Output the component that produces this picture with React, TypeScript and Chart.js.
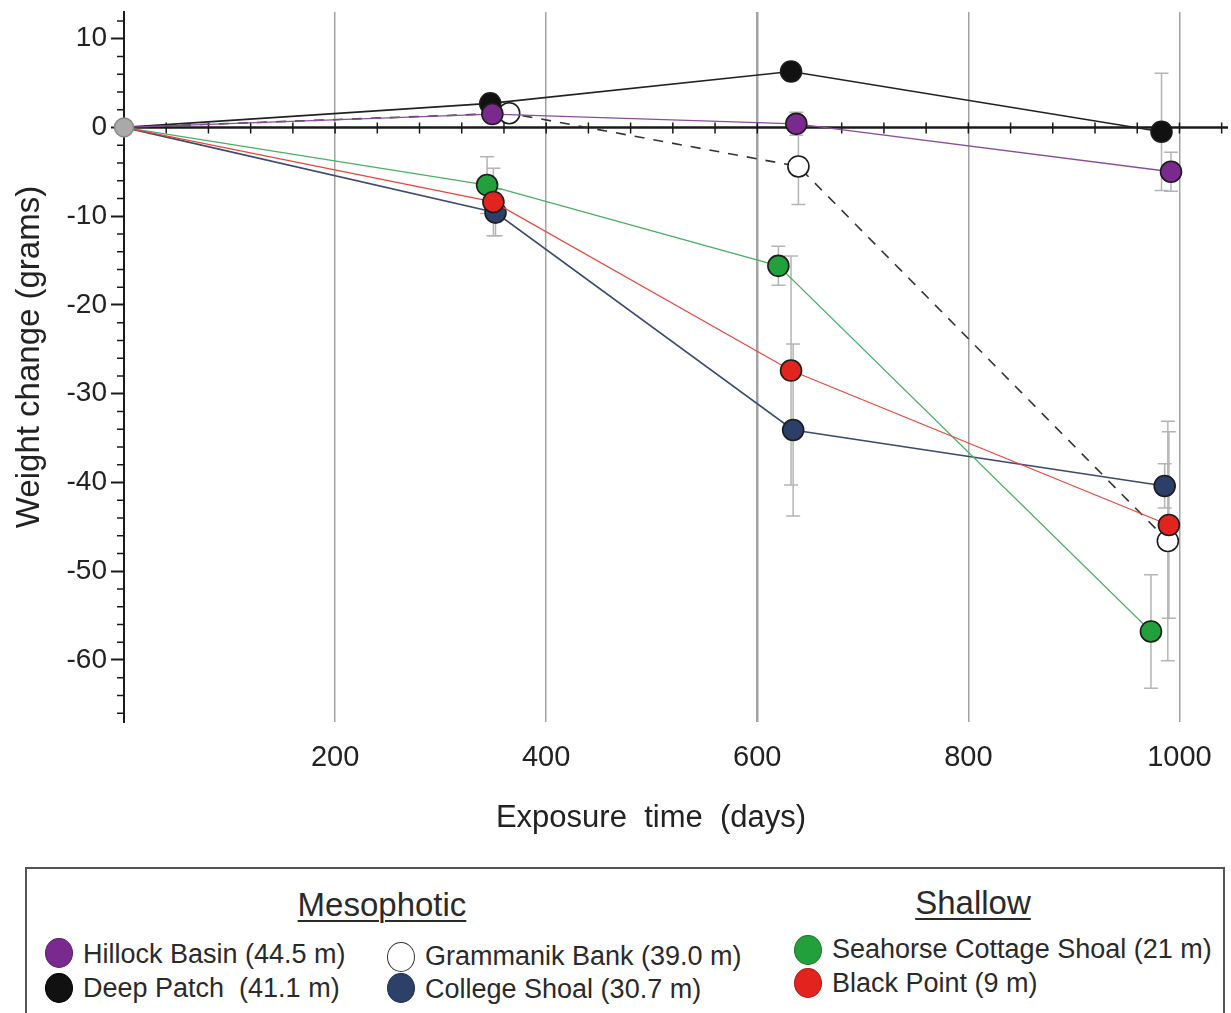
import React, { useEffect, useRef } from "react";
import { Chart, registerables } from "chart.js";

Chart.register(...registerables);

// Exposure time (days) and mean weight change (grams) per site, with error half-widths
const hillockDays = [0, 349, 637, 992];
const hillockWeight = [0, 1.5, 0.4, -5.0];
const hillockErr = [0, 0, 1.3, 2.2];

const deepDays = [0, 347, 632, 983];
const deepWeight = [0, 2.7, 6.3, -0.5];
const deepErr = [0, 0, 0, 6.6];

const grammanikDays = [0, 365, 639, 989];
const grammanikWeight = [0, 1.6, -4.4, -46.6];
const grammanikErr = [0, 0, 4.3, 13.5];

const collegeDays = [0, 352, 634, 986];
const collegeWeight = [0, -9.6, -34.1, -40.4];
const collegeErr = [0, 2.6, 9.7, 2.5];

const seahorseDays = [0, 344, 620, 973];
const seahorseWeight = [0, -6.5, -15.6, -56.8];
const seahorseErr = [0, 3.2, 2.2, 6.4];

const blackPointDays = [0, 350, 632, 990];
const blackPointWeight = [0, -8.4, -27.4, -44.8];
const blackPointErr = [0, 3.8, 12.9, 10.5];

const xTickValues = [200, 400, 600, 800, 1000];
const yTickValues = [-60, -50, -40, -30, -20, -10, 0, 10];

const FONT = '"Liberation Sans", Arial, Helvetica, sans-serif';

const toPoints = (days: number[], w: number[]) =>
  days.map((d, i) => ({ x: d, y: w[i] }));

type Site = {
  label: string;
  days: number[];
  weight: number[];
  err: number[];
  fill: string;
  line: string;
  lineWidth: number;
  dash?: number[];
  order: number;
};

const sites: Site[] = [
  { label: "Black Point (9 m)", days: blackPointDays, weight: blackPointWeight, err: blackPointErr, fill: "#e3241e", line: "#e8463c", lineWidth: 1.2, order: 0 },
  { label: "Seahorse Cottage Shoal (21 m)", days: seahorseDays, weight: seahorseWeight, err: seahorseErr, fill: "#22a03c", line: "#4aae66", lineWidth: 1.2, order: 1 },
  { label: "College Shoal (30.7 m)", days: collegeDays, weight: collegeWeight, err: collegeErr, fill: "#2c3f68", line: "#3b4a72", lineWidth: 1.6, order: 2 },
  { label: "Hillock Basin (44.5 m)", days: hillockDays, weight: hillockWeight, err: hillockErr, fill: "#7a2a8e", line: "#8a4d9c", lineWidth: 1.3, order: 3 },
  { label: "Grammanik Bank (39.0 m)", days: grammanikDays, weight: grammanikWeight, err: grammanikErr, fill: "#ffffff", line: "#333333", lineWidth: 1.6, dash: [10, 9], order: 4 },
  { label: "Deep Patch (41.1 m)", days: deepDays, weight: deepWeight, err: deepErr, fill: "#111111", line: "#222222", lineWidth: 1.6, order: 5 },
];

// Zero line with its minor ticks, minor y ticks, error bars and axis titles
const decorations = {
  id: "decorations",
  beforeDatasetsDraw(chart: any) {
    const { ctx, chartArea, scales } = chart;
    const xs = scales.x;
    const ys = scales.y;
    const y0 = ys.getPixelForValue(0);
    ctx.save();

    // error bars
    ctx.strokeStyle = "#b4b4b4";
    ctx.lineWidth = 1.5;
    sites.forEach((s) => {
      s.days.forEach((d, i) => {
        const e = s.err[i];
        if (!e) return;
        const px = xs.getPixelForValue(d);
        const top = ys.getPixelForValue(s.weight[i] + e);
        const bot = ys.getPixelForValue(s.weight[i] - e);
        ctx.beginPath();
        ctx.moveTo(px, top);
        ctx.lineTo(px, bot);
        ctx.moveTo(px - 7, top);
        ctx.lineTo(px + 7, top);
        ctx.moveTo(px - 7, bot);
        ctx.lineTo(px + 7, bot);
        ctx.stroke();
      });
    });

    // horizontal zero line
    ctx.strokeStyle = "#1a1a1a";
    ctx.lineWidth = 2.5;
    ctx.beginPath();
    ctx.moveTo(chartArea.left, y0);
    ctx.lineTo(chartArea.right, y0);
    ctx.stroke();

    // ticks along the zero line every 40 days
    ctx.lineWidth = 1.5;
    ctx.beginPath();
    for (let d = 40; d <= xs.max; d += 40) {
      const px = xs.getPixelForValue(d);
      ctx.moveTo(px, y0 - 5);
      ctx.lineTo(px, y0 + 6);
    }
    ctx.stroke();

    // minor ticks on the y axis every 2 g
    ctx.beginPath();
    for (let v = -66; v <= 12; v += 2) {
      if (v % 10 === 0) continue;
      const py = ys.getPixelForValue(v);
      ctx.moveTo(chartArea.left - 7, py);
      ctx.lineTo(chartArea.left, py);
    }
    ctx.stroke();
    ctx.restore();
  },
  afterDraw(chart: any) {
    const { ctx } = chart;
    ctx.save();
    ctx.fillStyle = "#222";
    ctx.font = `31px ${FONT}`;
    ctx.textAlign = "center";
    ctx.textBaseline = "alphabetic";
    ctx.fillText("Exposure  time  (days)", 651, 827);

    ctx.translate(39, 357);
    ctx.rotate(-Math.PI / 2);
    ctx.font = `33px ${FONT}`;
    ctx.fillText("Weight change (grams)", 0, 0);
    ctx.restore();
  },
};

function LegendDot({ x, y, color, border }: { x: number; y: number; color: string; border: string }) {
  return (
    <div
      style={{
        position: "absolute",
        left: x - 14,
        top: y - 15,
        width: 28,
        height: 30,
        borderRadius: "50%",
        background: color,
        border: `1.5px solid ${border}`,
        boxSizing: "border-box",
      }}
    />
  );
}

function LegendText({ x, y, text }: { x: number; y: number; text: string }) {
  return (
    <div
      style={{
        position: "absolute",
        left: x,
        top: y - 15,
        lineHeight: "30px",
        fontSize: 27,
        fontFamily: FONT,
        color: "#2a2a2a",
        whiteSpace: "pre",
      }}
    >
      {text}
    </div>
  );
}

function GroupTitle({ cx, baseline, text }: { cx: number; baseline: number; text: string }) {
  return (
    <div
      style={{
        position: "absolute",
        left: cx - 150,
        width: 300,
        top: baseline - 31,
        lineHeight: "37px",
        fontSize: 33,
        fontFamily: FONT,
        color: "#2a2a2a",
        textAlign: "center",
        textDecoration: "underline",
        textDecorationThickness: "2px",
        textUnderlineOffset: "4px",
      }}
    >
      {text}
    </div>
  );
}

export default function App() {
  const canvasRef = useRef<HTMLCanvasElement | null>(null);

  useEffect(() => {
    const canvas = canvasRef.current;
    if (!canvas) return;

    const datasets: any[] = sites.map((s) => ({
      label: s.label,
      data: toPoints(s.days, s.weight),
      borderColor: s.line,
      borderWidth: s.lineWidth,
      borderDash: s.dash || [],
      backgroundColor: s.fill,
      pointBackgroundColor: s.fill,
      pointBorderColor: "#1c1c1c",
      pointBorderWidth: 1.6,
      pointRadius: (c: any) => (c.dataIndex === 0 ? 0 : 10.5),
      pointHoverRadius: (c: any) => (c.dataIndex === 0 ? 0 : 10.5),
      tension: 0,
      fill: false,
      clip: false,
      order: s.order,
    }));

    // shared starting point at day 0
    datasets.push({
      label: "start",
      data: [{ x: 0, y: 0 }],
      showLine: false,
      pointBackgroundColor: "#a9a9a9",
      pointBorderColor: "#8a8a8a",
      pointBorderWidth: 1.5,
      pointRadius: 9.5,
      clip: false,
      order: -1,
    });

    const chart = new Chart(canvas, {
      type: "line",
      data: { datasets },
      options: {
        animation: false,
        responsive: false,
        devicePixelRatio: 1,
        layout: { autoPadding: false, padding: { top: 12, right: 3, left: 0, bottom: 0 } },
        plugins: {
          legend: { display: false },
          tooltip: { enabled: false },
        },
        scales: {
          x: {
            type: "linear",
            min: 0,
            max: 1046,
            afterFit: (scale: any) => {
              scale.height = 138;
              scale.paddingLeft = 0;
              scale.paddingRight = 0;
            },
            afterBuildTicks: (scale: any) => {
              scale.ticks = xTickValues.map((v) => ({ value: v }));
            },
            border: { display: false },
            grid: {
              drawOnChartArea: true,
              drawTicks: false,
              color: "#a3a3a3",
              lineWidth: (c: any) => (c.tick && c.tick.value === 600 ? 2.5 : 1.5),
            },
            ticks: {
              padding: 19,
              color: "#222",
              font: { family: FONT, size: 29 },
              maxRotation: 0,
              callback: (v: any) => String(v),
            },
          },
          y: {
            type: "linear",
            min: -67,
            max: 13,
            afterFit: (scale: any) => {
              scale.width = 124;
              scale.paddingTop = 0;
              scale.paddingBottom = 0;
            },
            afterBuildTicks: (scale: any) => {
              scale.ticks = yTickValues.map((v) => ({ value: v }));
            },
            border: { display: true, color: "#1a1a1a", width: 2 },
            grid: {
              drawOnChartArea: false,
              drawTicks: true,
              tickLength: 13,
              tickColor: "#1a1a1a",
              tickWidth: 2,
            },
            ticks: {
              padding: 4,
              color: "#222",
              font: { family: FONT, size: 28 },
              callback: (v: any) => String(v),
            },
          },
        },
      },
      plugins: [decorations],
    });

    return () => chart.destroy();
  }, []);

  return (
    <div style={{ position: "absolute", left: 0, top: 0, width: 1231, height: 1013, background: "#ffffff", overflow: "hidden" }}>
      <canvas ref={canvasRef} width={1231} height={860} style={{ position: "absolute", left: 0, top: 0, width: 1231, height: 860 }} />
      <div
        style={{
          position: "absolute",
          left: 25,
          top: 867,
          width: 1200,
          height: 170,
          border: "2px solid #555",
          boxSizing: "border-box",
        }}
      />
      <GroupTitle cx={382} baseline={917} text="Mesophotic" />
      <GroupTitle cx={973} baseline={915} text="Shallow" />

      <LegendDot x={59} y={953} color="#7a2a8e" border="#5a1f6a" />
      <LegendText x={83} y={954} text="Hillock Basin (44.5 m)" />
      <LegendDot x={59} y={988} color="#111111" border="#000" />
      <LegendText x={83} y={988} text="Deep Patch  (41.1 m)" />

      <LegendDot x={401} y={957} color="#ffffff" border="#333" />
      <LegendText x={425} y={956} text="Grammanik Bank (39.0 m)" />
      <LegendDot x={401} y={988} color="#2c4068" border="#1e2e50" />
      <LegendText x={425} y={989} text="College Shoal (30.7 m)" />

      <LegendDot x={808} y={950} color="#22a03c" border="#17762a" />
      <LegendText x={832} y={949} text="Seahorse Cottage Shoal (21 m)" />
      <LegendDot x={808} y={983} color="#e3241e" border="#a81a14" />
      <LegendText x={832} y={983} text="Black Point (9 m)" />
    </div>
  );
}
